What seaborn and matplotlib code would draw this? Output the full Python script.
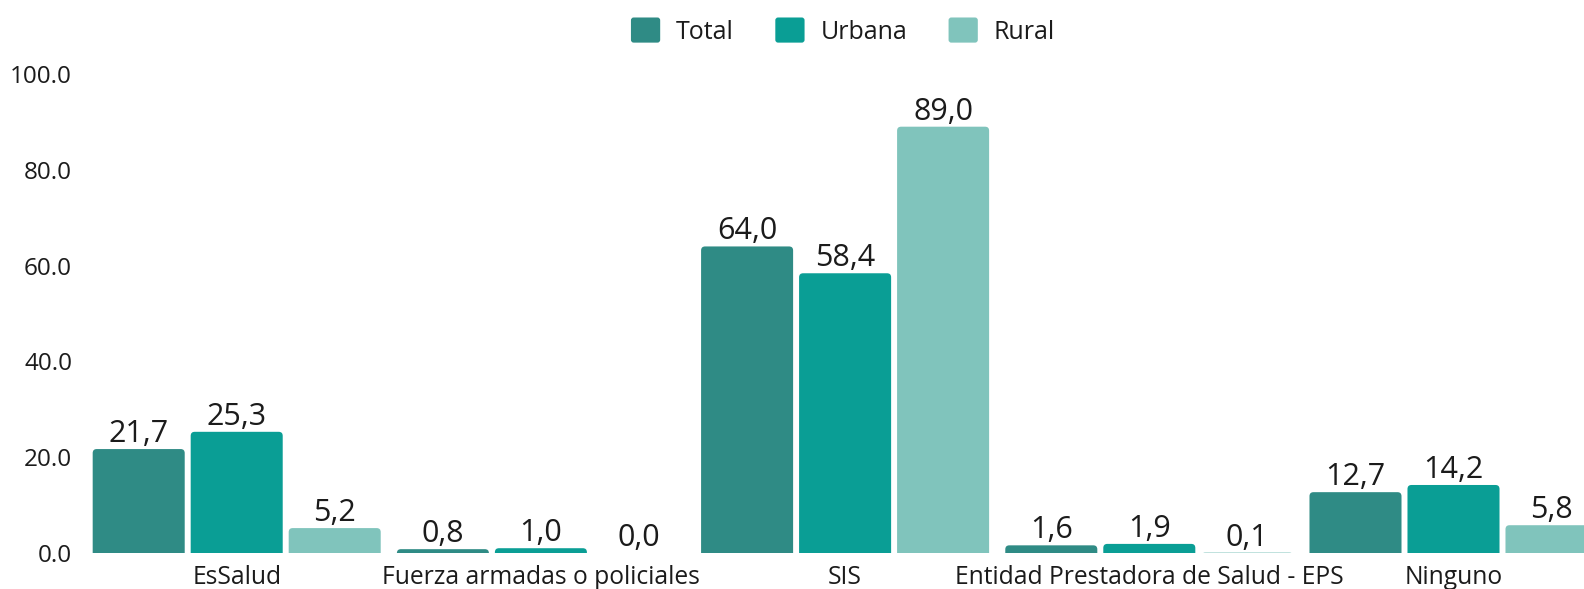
import pandas as pd
import matplotlib.pyplot as plt
import seaborn as sns
from matplotlib.patches import FancyBboxPatch, Patch
from matplotlib.legend_handler import HandlerPatch

# datos del grafico
categorias = ['EsSalud', 'Fuerza armadas o policiales', 'SIS',
              'Entidad Prestadora de Salud - EPS', 'Ninguno']
series = ['Total', 'Urbana', 'Rural']
total = [21.7, 0.8, 64.0, 1.6, 12.7]
urbana = [25.3, 1.0, 58.4, 1.9, 14.2]
rural = [5.2, 0.0, 89.0, 0.1, 5.8]
yticks = [0, 20, 40, 60, 80, 100]

colores = ['#2F8B85', '#0A9E95', '#80C4BC']
texto = '#1b1b1b'

df = pd.DataFrame({
    'Tipo': categorias * 3,
    'Area': [s for s in series for _ in categorias],
    'Porcentaje': total + urbana + rural,
})

sns.set_theme(style='white')
plt.rcParams['font.family'] = ['Open Sans', 'DejaVu Sans']

fig = plt.figure(figsize=(15.84, 5.89), dpi=100)
ax = fig.add_axes([84.6 / 1584, 36 / 589, 1 - 84.6 / 1584, 479 / 589])

sns.barplot(data=df, x='Tipo', y='Porcentaje', hue='Area', order=categorias,
            hue_order=series, palette=colores, saturation=1, width=0.9665, gap=0.061,
            errorbar=None, legend=False, ax=ax)

ax.set_xlim(-0.5, 4.429)
ax.set_ylim(0, 100)
ax.set_yticks(yticks)
ax.set_yticklabels([f'{v:.1f}' for v in yticks])
ax.set_xlabel('')
ax.set_ylabel('')
ax.tick_params(axis='x', length=0, pad=9, labelsize=17.7, colors=texto)
ax.tick_params(axis='y', length=0, pad=9, labelsize=17.5, colors=texto)
sns.despine(ax=ax, left=True, bottom=True)

# etiquetas de valor con coma decimal
for cont in ax.containers:
    ax.bar_label(cont, labels=[f'{v:.1f}'.replace('.', ',') for v in cont.datavalues],
                 padding=0, fontsize=22, color=texto)

# barras con esquinas superiores redondeadas
fig.canvas.draw()
bbox = ax.get_window_extent()
x0, x1 = ax.get_xlim()
xpp = (x1 - x0) / bbox.width
ypp = 100 / bbox.height
r = 4 * xpp
ext = 10 * ypp
for p in list(ax.patches):
    x, y, w, h = p.get_x(), p.get_y(), p.get_width(), p.get_height()
    fb = FancyBboxPatch((x, y - ext), w, h + ext,
                        boxstyle=f'round,pad=0,rounding_size={r}',
                        mutation_aspect=ypp / xpp, facecolor=p.get_facecolor(),
                        edgecolor='none', linewidth=0)
    p.remove()
    ax.add_patch(fb)


def cuadro(legend, orig_handle, xdescent, ydescent, width, height, fontsize):
    return FancyBboxPatch((-xdescent, -ydescent), width, height,
                          boxstyle='round,pad=0,rounding_size=2')


handles = [Patch(facecolor=c, edgecolor='none', label=s) for c, s in zip(colores, series)]
leg = fig.legend(handles=handles, loc='center', bbox_to_anchor=(843 / 1584, 1 - 31 / 589),
                 ncol=3, frameon=False, fontsize=18, handlelength=1.17, handleheight=1.17,
                 handletextpad=0.64, columnspacing=1.65,
                 handler_map={Patch: HandlerPatch(patch_func=cuadro)})
for t in leg.get_texts():
    t.set_color(texto)

fig.savefig('out.png', dpi=100)
